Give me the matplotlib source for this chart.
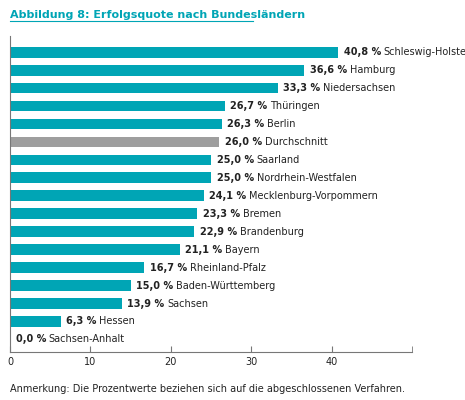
import matplotlib
matplotlib.use("Agg")
import matplotlib.pyplot as plt

laender = ["Schleswig-Holstein","Hamburg","Niedersachsen","Thüringen","Berlin","Durchschnitt",
           "Saarland","Nordrhein-Westfalen","Mecklenburg-Vorpommern","Bremen","Brandenburg",
           "Bayern","Rheinland-Pfalz","Baden-Württemberg","Sachsen","Hessen","Sachsen-Anhalt"]
werte = [40.8,36.6,33.3,26.7,26.3,26.0,25.0,25.0,24.1,23.3,22.9,21.1,16.7,15.0,13.9,6.3,0.0]
ticks = [0,10,20,30,40]

teal = "#00A5B5"
grey = "#9E9E9E"
fig = plt.figure(figsize=(4.65,4.0), dpi=100)
ax = fig.add_axes([0.0215,0.12,0.865,0.79])
y = list(range(len(werte)))
colors = [grey if l=="Durchschnitt" else teal for l in laender]
ax.barh(y, werte, height=0.6, color=colors)
for yi,(v,l) in enumerate(zip(werte,laender)):
    lab = f"{v:.1f}".replace(".",",")
    t = ax.annotate(lab+" %", (v,yi), xytext=(4,0), textcoords="offset points",
                    va="center", ha="left", fontsize=7, fontweight="bold", color="#222222")
    ax.annotate(l, xy=(1,0.5), xycoords=t, xytext=(2,0), textcoords="offset points",
                va="center", ha="left", fontsize=7, color="#222222")
ax.set_ylim(len(werte)-0.3,-0.9)
ax.set_xlim(0,50)
ax.set_xticks(ticks)
ax.set_xticks([50], minor=True)
ax.tick_params(axis="x", labelsize=7, length=4, color="#777777", direction="in", labelcolor="#222222")
ax.tick_params(axis="x", which="minor", length=4, color="#777777", direction="in")
ax.set_yticks([])
for s in ["top","right"]:
    ax.spines[s].set_visible(False)
ax.spines["left"].set_color("#777777")
ax.spines["bottom"].set_color("#777777")
fig.text(0.022,0.955,"Abbildung 8: Erfolgsquote nach Bundesländern", fontsize=8, fontweight="bold", color=teal)
fig.add_artist(plt.Line2D([0.022,0.545],[0.948,0.948], color=teal, lw=0.8))
fig.text(0.022,0.02,"Anmerkung: Die Prozentwerte beziehen sich auf die abgeschlossenen Verfahren.", fontsize=7, color="#222222")
fig.savefig("out.png", dpi=100)
